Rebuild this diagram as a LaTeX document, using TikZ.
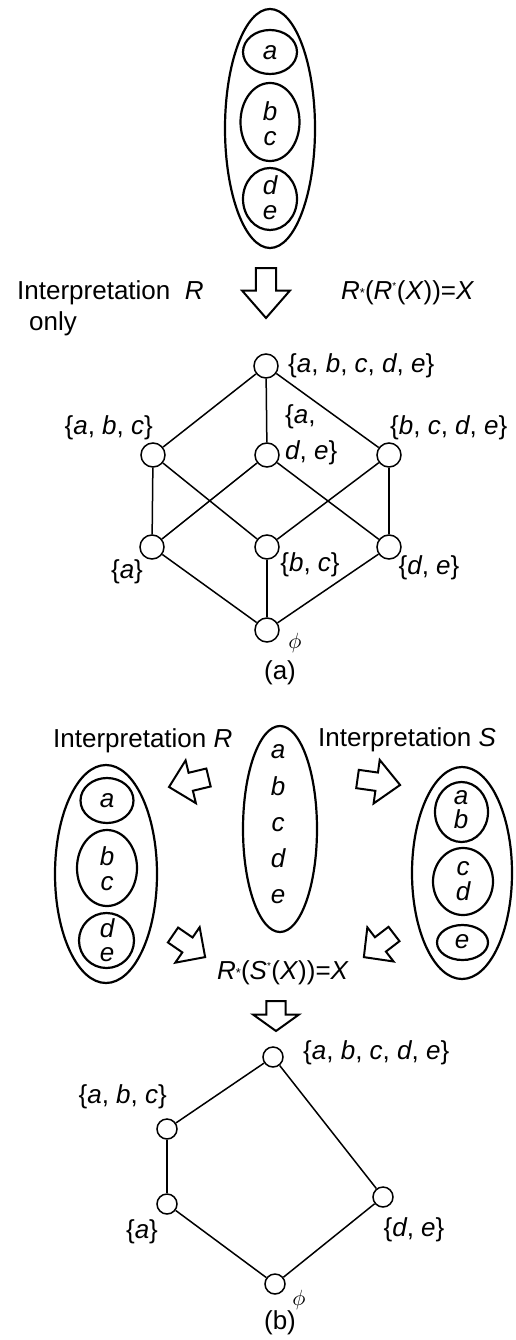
\documentclass[tikz,border=0pt]{standalone}
\usepackage{fontspec}
\setmainfont{Liberation Sans}
\usetikzlibrary{positioning}

\newcommand{\elm}[1]{\textit{#1}}
\newcommand{\nilset}{\scalebox{2.2}{\fontsize{10}{10}\selectfont$\phi$}}

\tikzset{
	vtx/.style={circle, draw, fill=white, line width=1.5pt, minimum size=24pt, inner sep=0pt},
	vtxs/.style={vtx, minimum size=20pt},
	link/.style={line width=1.5pt},
	ring/.style={line width=2.2pt},
	lbl/.style={inner sep=0pt},
	letter/.style={inner sep=0pt, align=center, font=\fontsize{26}{25}\selectfont\itshape},
	hollowarrow/.pic={\draw[line width=2pt, line join=miter] (0,-0.21) -- (0.45,-0.21) -- (0.45,-0.5) -- (1,0) -- (0.45,0.5) -- (0.45,0.21) -- (0,0.21) -- cycle;}
}

\begin{document}
\begin{tikzpicture}[x=1pt, y=-1pt, font=\fontsize{26}{30}\selectfont]
		\useasboundingbox (0,0) rectangle (516,1340);
		
		% (a) partition R
		\draw[ring] (270,128.5) ellipse [x radius=45, y radius=119.5];
		\draw[ring] (270,52) ellipse [x radius=27, y radius=22];
		\draw[ring] (270,122) ellipse [x radius=29.5, y radius=39];
		\draw[ring] (270,199) ellipse [x radius=27, y radius=31];
		\node[letter] (ta) at (270,53) {a};
		\node[letter] (tbc) at (270,123.5) {b\\c};
		\node[letter] (tde) at (270,197.5) {d\\e};
		
		\pic[rotate=-90, xscale=50, yscale=48] at (266,268) {hollowarrow};
		\node[lbl, anchor=base west] (interpA) at (17,299) {Interpretation~~\elm{R}};
		\node[lbl, anchor=base west] (onlyA) at (29,330) {only};
		\node[lbl, anchor=base west] (eqA) at (341,299) {\elm{R}\raisebox{2pt}{\fontsize{13}{13}\selectfont *}(\elm{R}\textsuperscript{\fontsize{10}{10}\selectfont *}(\elm{X}))=\elm{X}};
		
		% lattice (a)
		\node[vtx] (aTop) at (266,366) {};
		\node[vtx] (aABC) at (153,455) {};
		\node[vtx] (aADE) at (267,455) {};
		\node[vtx] (aBCDE) at (389,455) {};
		\node[vtx] (aA) at (152,547) {};
		\node[vtx] (aBC) at (267,547) {};
		\node[vtx] (aDE) at (389,547) {};
		\node[vtx] (aNil) at (267,630) {};
		
		\draw[link] (aTop) -- (aABC);
		\draw[link] (aTop) -- (aADE);
		\draw[link] (aTop) -- (aBCDE);
		\draw[link] (aABC) -- (aA);
		\draw[link] (aABC) -- (aBC);
		\draw[link] (aADE) -- (aA);
		\draw[link] (aADE) -- (aDE);
		\draw[link] (aBCDE) -- (aBC);
		\draw[link] (aBCDE) -- (aDE);
		\draw[link] (aA) -- (aNil);
		\draw[link] (aBC) -- (aNil);
		\draw[link] (aDE) -- (aNil);
		
		\node[lbl, anchor=west] (aTopL) at (288,366) {\{\elm{a}, \elm{b}, \elm{c}, \elm{d}, \elm{e}\}};
		\node[lbl, anchor=east] (aABCL) at (153,428) {\{\elm{a}, \elm{b}, \elm{c}\}};
		\node[lbl, anchor=west, align=left, font=\fontsize{26}{36}\selectfont] (aADEL) at (285,435) {\{\elm{a},\\\elm{d}, \elm{e}\}};
		\node[lbl, anchor=west] (aBCDEL) at (390,428) {\{\elm{b}, \elm{c}, \elm{d}, \elm{e}\}};
		\node[lbl] (aAL) at (127,572) {\{\elm{a}\}};
		\node[lbl] (aBCL) at (310,565) {\{\elm{b}, \elm{c}\}};
		\node[lbl] (aDEL) at (429,568) {\{\elm{d}, \elm{e}\}};
		\node[lbl] (aNilL) at (295,643) {\nilset};
		\node[lbl] (capA) at (280,673) {(a)};
		
		% (b) partitions R and S
		\node[lbl, anchor=base west] (interpR) at (53,747) {Interpretation \elm{R}};
		\node[lbl, anchor=base west] (interpS) at (318,746) {Interpretation \elm{S}};
		
		\draw[ring] (280,829) ellipse [x radius=37, y radius=103];
		\node[letter, font=\fontsize{26}{36.25}\selectfont\itshape] (cLet) at (278,824.5) {a\\b\\c\\d\\e};
		
		\draw[ring] (106,874) ellipse [x radius=51, y radius=109];
		\draw[ring] (107,800.5) ellipse [x radius=26.5, y radius=22.5];
		\draw[ring] (107,868) ellipse [x radius=30, y radius=38];
		\draw[ring] (106.5,940.5) ellipse [x radius=27.5, y radius=27.5];
		\node[letter] (la) at (107,801) {a};
		\node[letter] (lbc) at (107,868.5) {b\\c};
		\node[letter, font=\fontsize{26}{23.5}\selectfont\itshape] (lde) at (107,940) {d\\e};
		
		\draw[ring] (462,873) ellipse [x radius=50, y radius=106];
		\draw[ring] (461.5,812) ellipse [x radius=26.5, y radius=30];
		\draw[ring] (463,881.5) ellipse [x radius=30, y radius=33.5];
		\draw[ring] (462.5,942.5) ellipse [x radius=25.5, y radius=17.5];
		\node[letter, font=\fontsize{26}{24}\selectfont\itshape] (rab) at (461,810) {a\\b};
		\node[letter] (rcd) at (463,881.5) {c\\d};
		\node[letter] (re) at (462,942) {e};
		
		\pic[rotate=193.5, xscale=40.6, yscale=44] at (208.5,777.5) {hollowarrow};
		\pic[rotate=-8, xscale=43, yscale=44] at (357.5,779) {hollowarrow};
		\pic[rotate=-34.5, xscale=39, yscale=43] at (173,935) {hollowarrow};
		\pic[rotate=217.5, xscale=38, yscale=43] at (394,934) {hollowarrow};
		
		\node[lbl, anchor=base west] (eqB) at (217,979) {\elm{R}\raisebox{2pt}{\fontsize{13}{13}\selectfont *}(\elm{S}\textsuperscript{\fontsize{10}{10}\selectfont *}(\elm{X}))=\elm{X}};
		\pic[rotate=-90, xscale=30, yscale=46] at (276,1001) {hollowarrow};
		
		% lattice (b)
		\node[vtxs] (bTop) at (273,1057) {};
		\node[vtxs] (bABC) at (167,1129) {};
		\node[vtxs] (bA) at (167,1204) {};
		\node[vtxs] (bDE) at (383,1197) {};
		\node[vtxs] (bNil) at (275,1284) {};
		
		\draw[link] (bTop) -- (bABC);
		\draw[link] (bABC) -- (bA);
		\draw[link] (bA) -- (bNil);
		\draw[link] (bTop) -- (bDE);
		\draw[link] (bDE) -- (bNil);
		
		\node[lbl, anchor=west] (bTopL) at (303,1053) {\{\elm{a}, \elm{b}, \elm{c}, \elm{d}, \elm{e}\}};
		\node[lbl, anchor=east] (bABCL) at (167,1097) {\{\elm{a}, \elm{b}, \elm{c}\}};
		\node[lbl] (bAL) at (142,1232) {\{\elm{a}\}};
		\node[lbl] (bDEL) at (414,1230) {\{\elm{d}, \elm{e}\}};
		\node[lbl] (bNilL) at (299,1300) {\nilset};
		\node[lbl] (capB) at (280,1323) {(b)};
	\end{tikzpicture}
\end{document}
